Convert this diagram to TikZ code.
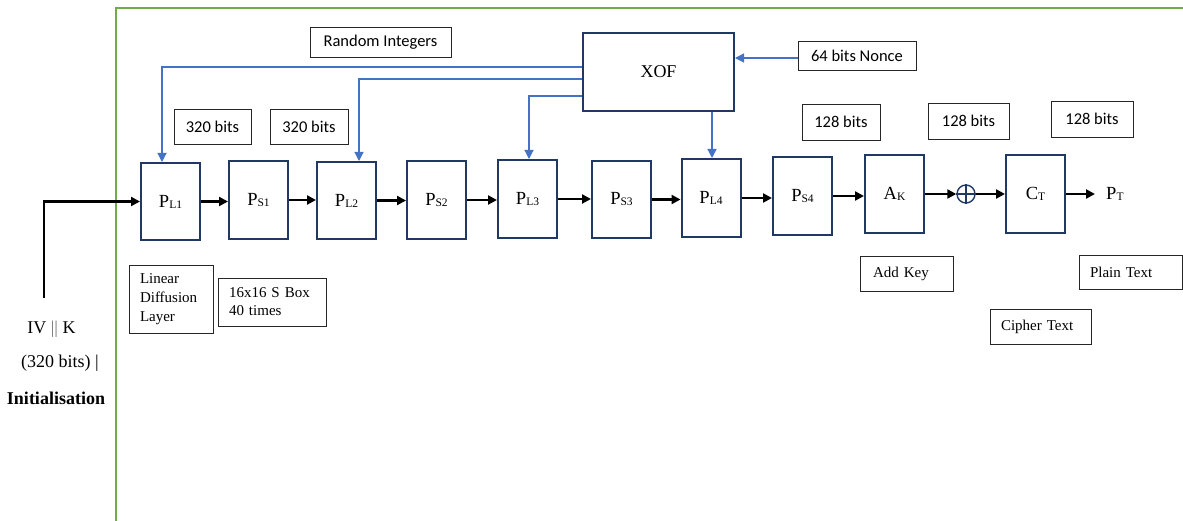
\documentclass[tikz,border=0pt]{standalone}
\usepackage{fontspec}
\setmainfont{Liberation Serif}
\newfontfamily\calfont{Carlito}
\usetikzlibrary{arrows.meta,calc}
\definecolor{navy}{HTML}{203864}
\definecolor{blu}{HTML}{4472C4}
\definecolor{grn}{HTML}{70AD47}
\newcommand{\PSub}[2]{#1{\fontsize{11.5}{12}\selectfont\raisebox{-1pt}{#2}}}
\begin{document}
\begin{tikzpicture}[x=1pt,y=-1pt,
  blk/.style={draw=navy, line width=2pt, minimum width=59pt, minimum height=78pt, inner sep=0pt, font=\fontsize{18.5}{20}\selectfont},
  tb/.style={draw=black!85, line width=0.9pt, inner sep=0pt, font=\calfont\fontsize{16.5}{18}\selectfont},
  tbs/.style={draw=black!85, line width=0.9pt, inner xsep=11pt, inner ysep=0pt, align=left, font=\fontsize{15}{19}\selectfont},
  arr/.style={line width=2.2pt, -{Triangle[width=9pt,length=9pt]}},
  barr/.style={draw=blu, line width=1.2pt, -{Triangle[width=9pt,length=9pt]}},
  lbl/.style={inner sep=0pt, font=\fontsize{18}{20}\selectfont}]
\useasboundingbox (0,0) rectangle (1183,521);
% green frame
\draw[grn, line width=2pt] (116,521) -- (116,8) -- (1183,8);

% main blocks
\node[blk, minimum height=77pt] (PL1) at (170.5,201.5) {\PSub{P}{L1}};
\node[blk] (PS1) at (258.5,200) {\PSub{P}{S1}};
\node[blk, minimum height=77pt] (PL2) at (346.5,200.5) {\PSub{P}{L2}};
\node[blk] (PS2) at (436.5,200) {\PSub{P}{S2}};
\node[blk] (PL3) at (527.5,199) {\PSub{P}{L3}};
\node[blk, minimum height=77pt] (PS3) at (621.5,199.5) {\PSub{P}{S3}};
\node[blk] (PL4) at (711,198) {\PSub{P}{L4}};
\node[blk] (PS4) at (802.5,196) {\PSub{P}{S4}};
\node[blk] (AK) at (894.5,194) {\PSub{A}{K}};
\node[blk] (CT) at (1035.5,194) {\PSub{C}{T}};
\node[blk, minimum width=151pt, minimum height=78pt, font=\fontsize{18}{20}\selectfont] (XOF) at (658.5,72) {XOF};
\node[circle, draw=navy, line width=1.4pt, minimum size=18pt, inner sep=0pt] (xor) at (966,194) {};
\draw[navy, line width=1.4pt] (xor.north) -- (xor.south) (xor.west) -- (xor.east);
\node[anchor=west, inner xsep=11pt, inner ysep=2pt, font=\fontsize{18.5}{20}\selectfont] (PT) at (1095,194) {\PSub{P}{T}};

% text boxes
\node[tb, minimum width=141pt, minimum height=30pt] (rand) at (380.5,42) {Random Integers};
\node[tb, minimum width=77pt, minimum height=35pt] (b320a) at (212.5,126.5) {320 bits};
\node[tb, minimum width=78pt, minimum height=35pt] (b320b) at (309,126.5) {320 bits};
\node[tb, minimum width=78pt, minimum height=36pt] (b128a) at (841,122) {128 bits};
\node[tb, minimum width=81pt, minimum height=36pt] (b128b) at (968.5,121) {128 bits};
\node[tb, minimum width=82pt, minimum height=36pt] (b128c) at (1092,119) {128 bits};
\node[tb, minimum width=118pt, minimum height=29pt] (nonce) at (857,55.5) {64 bits Nonce};

\node[tbs, text width=62pt, minimum height=68pt] (ldl) at (171,299) {Linear\\Diffusion\\Layer};
\node[tbs, text width=86pt, minimum height=48pt, font=\fontsize{15}{18}\selectfont] (sbox) at (272,302) {16x16 S Box\\40 times};
\node[tbs, inner xsep=13pt, text width=67pt, minimum height=35pt] (addkey) at (906.5,273.5) {Add Key};
\node[tbs, text width=81pt, minimum height=34pt] (plain) at (1130.5,272) {Plain Text};
\node[tbs, text width=79pt, minimum height=35pt] (cipher) at (1040.5,326.5) {Cipher Text};

% left labels
\node[lbl] (ivk) at (51.5,329) {IV {\color{black!55}||} K};
\node[lbl] (bits) at (60,363) {(320 bits) |};
\node[lbl, font=\fontsize{18}{20}\selectfont\bfseries] (init) at (56,398) {Initialisation};

% input arrow
\coordinate (in0) at (44,298);
\draw[arr] (in0) |- (PL1.west);

% chain arrows
\foreach \a/\b in {PL1/PS1,PS1/PL2,PL2/PS2,PS2/PL3,PL3/PS3,PS3/PL4,PL4/PS4,PS4/AK}
  \draw[arr] (\a.east) -- (\a.east -| \b.west);
\draw[arr] (AK.east) -- (xor.west);
\draw[arr] (xor.east) -- (xor.east -| CT.west);
\draw[arr] (CT.east) -- (CT.east -| PT.west);

% blue XOF outputs
\draw[barr] ([yshift=5pt]XOF.west) -| ([xshift=-8.5pt]PL1.north);
\draw[barr] ([yshift=-7pt]XOF.west) -| ([xshift=12.5pt]PL2.north);
\draw[barr] ([yshift=-24pt]XOF.west) -| ([xshift=1.5pt]PL3.north);
\coordinate (p4) at ([xshift=1pt]PL4.north);
\draw[barr] (p4 |- XOF.south) -- (p4);
\coordinate (nw) at ([yshift=-2.5pt]nonce.west);
\draw[barr] (nw) -- (nw -| XOF.east);
\end{tikzpicture}
\end{document}
